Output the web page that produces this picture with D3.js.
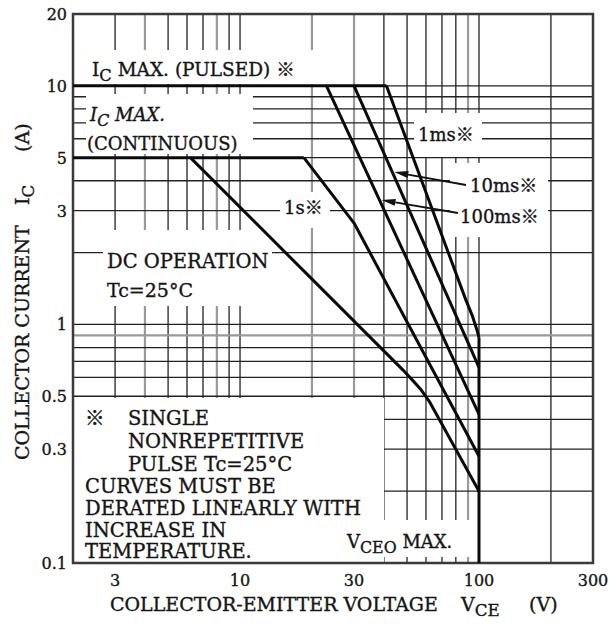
<!DOCTYPE html>
<html>
<head>
<meta charset="utf-8">
<script src="https://cdn.jsdelivr.net/npm/d3@7"></script>
<style>
  html, body { margin: 0; padding: 0; background: #fff; }
  svg { display: block; }
  text { font-family: "DejaVu Serif", "Noto Sans CJK JP", serif; fill: #151515; stroke: #151515; stroke-width: 0.35; }
</style>
</head>
<body>
<svg id="chart" width="616" height="633"></svg>
<script>
// ---- data ----
const xTickValues = [3, 10, 30, 100, 300];
const xTickLabels = ["3", "10", "30", "100", "300"];
const yTickValues = [0.1, 0.3, 0.5, 1, 3, 5, 10, 20];
const yTickLabels = ["0.1", "0.3", "0.5", "1", "3", "5", "10", "20"];
const xGridValues = [3, 4, 5, 6, 7, 8, 9, 10, 20, 30, 40, 50, 60, 70, 80, 90, 100, 200];
const yGridValues = [0.2, 0.3, 0.4, 0.5, 0.6, 0.7, 0.8, 0.9, 1, 2, 3, 4, 5, 6, 7, 8, 9, 10];

// boundary lines (V in volts, I in amperes)
const icPulsedV = [2, 41];     const icPulsedI = [10, 10];
const icContV   = [2, 18.5];   const icContI   = [5, 5];
const vceoV     = [100, 100];  const vceoI     = [0.88, 0.1];
// safe operating area curves
const dcV    = [6.2, 48, 53, 57, 62, 100];      const dcI    = [5, 0.645, 0.58, 0.535, 0.475, 0.2];
const s1V    = [18.5, 30, 100];                 const s1I    = [5, 2.66, 0.28];
const ms100V = [23, 100];                       const ms100I = [10, 0.42];
const ms10V  = [30, 100];                       const ms10I  = [10, 0.66];
const ms1V   = [41, 88, 94, 98, 100];           const ms1I   = [10, 1.27, 1.08, 0.95, 0.88];

// ---- layout ----
const svg = d3.select("#chart");
const L = 73, R = 593, T = 14, B = 563;
const x = d3.scaleLog().domain([2, 300]).range([L, R]);
const y = d3.scaleLog().domain([0.1, 20]).range([B, T]);

const grayX = new Set([4, 8, 20, 30, 90]);
const grayY = new Set([0.9]);

// grid
const grid = svg.append("g");
grid.selectAll("line.v").data(xGridValues).join("line")
  .attr("x1", d => x(d)).attr("x2", d => x(d))
  .attr("y1", T).attr("y2", B)
  .attr("stroke", d => grayX.has(d) ? "#9a9a9a" : "#222")
  .attr("stroke-width", d => grayX.has(d) ? 2.2 : 1.3);
grid.selectAll("line.h").data(yGridValues).join("line")
  .attr("x1", L).attr("x2", R)
  .attr("y1", d => y(d)).attr("y2", d => y(d))
  .attr("stroke", d => grayY.has(d) ? "#9a9a9a" : "#222")
  .attr("stroke-width", d => grayY.has(d) ? 2.2 : 1.3);

// white-out regions behind the annotations
const boxes = [
  [L + 1, 50, 330, 84],      // IC MAX (PULSED)
  [86, 94, 253, 154],        // IC MAX (CONTINUOUS)
  [280, 192, 330, 228],      // 1s
  [103, 230, 272, 306],      // DC OPERATION
  [L + 1, 398, 384, B - 1],  // note
  [340, 520, 474, 557],      // VCEO MAX
  [414, 113, 482, 157],      // 1ms
  [450, 163, 548, 237]       // 10ms / 100ms
];
svg.append("g").selectAll("rect").data(boxes).join("rect")
  .attr("x", d => d[0]).attr("y", d => d[1])
  .attr("width", d => d[2] - d[0]).attr("height", d => d[3] - d[1])
  .attr("fill", "#fff");

// frame
svg.append("rect").attr("x", L).attr("y", T).attr("width", R - L).attr("height", B - T)
  .attr("fill", "none").attr("stroke", "#3a3a3a").attr("stroke-width", 2.5);

// curves
const zip = (a, b) => a.map((v, i) => [v, b[i]]);
const line = d3.line().x(d => x(d[0])).y(d => y(d[1]));
const curves = [
  zip(icPulsedV, icPulsedI), zip(icContV, icContI), zip(vceoV, vceoI),
  zip(dcV, dcI), zip(s1V, s1I), zip(ms100V, ms100I), zip(ms10V, ms10I), zip(ms1V, ms1I)
];
svg.append("g").selectAll("path").data(curves).join("path")
  .attr("d", line)
  .attr("fill", "none").attr("stroke", "#0a0a0a").attr("stroke-width", 3)
  .attr("stroke-linejoin", "round");

// leader arrows: tip on a curve at a given current
function vAt(Vs, Is, I) {
  for (let i = 0; i < Vs.length - 1; i++) {
    if (I <= Is[i] && I >= Is[i + 1]) {
      const t = Math.log(Is[i] / I) / Math.log(Is[i] / Is[i + 1]);
      return Math.exp(Math.log(Vs[i]) + t * Math.log(Vs[i + 1] / Vs[i]));
    }
  }
  return Vs[0];
}
const arrows = [
  { tip: [x(vAt(ms10V, ms10I, 4.35)) + 2, y(4.35)], tail: [466, 185] },
  { tip: [x(vAt(ms100V, ms100I, 3.32)) + 2, y(3.32)], tail: [458, 213] }
];
const ag = svg.append("g");
arrows.forEach(a => {
  const [tx, ty] = a.tip, [sx, sy] = a.tail;
  const ang = Math.atan2(ty - sy, tx - sx);
  const len = 14, w = 3.5;
  const bx = tx - len * Math.cos(ang), by = ty - len * Math.sin(ang);
  ag.append("line").attr("x1", sx).attr("y1", sy).attr("x2", bx).attr("y2", by)
    .attr("stroke", "#111").attr("stroke-width", 1.8);
  ag.append("path")
    .attr("d", `M${tx},${ty} L${bx + w * Math.sin(ang)},${by - w * Math.cos(ang)} L${bx - w * Math.sin(ang)},${by + w * Math.cos(ang)} Z`)
    .attr("fill", "#111");
});

// tick labels
svg.append("g").selectAll("text").data(yTickValues).join("text")
  .attr("x", 67).attr("y", d => y(d) + 6)
  .attr("text-anchor", "end").attr("font-size", 16)
  .text((d, i) => yTickLabels[i]);
svg.append("g").selectAll("text").data(xTickValues).join("text")
  .attr("x", d => x(d)).attr("y", 586)
  .attr("text-anchor", "middle").attr("font-size", 16)
  .text((d, i) => xTickLabels[i]);

// helper for text with subscript
function subText(g, xx, yy, main, sub, rest, size, italic) {
  const t = g.append("text").attr("x", xx).attr("y", yy).attr("font-size", size);
  if (italic) t.attr("font-style", "italic");
  t.append("tspan").text(main);
  t.append("tspan").attr("dy", 5).attr("font-size", size * 0.88).text(sub);
  if (rest) t.append("tspan").attr("dy", -5).text(rest);
  return t;
}
const lab = svg.append("g");
subText(lab, 92, 76, "I", "C", " MAX. (PULSED) ※", 18.5);
subText(lab, 90, 121, "I", "C", " MAX.", 18, true);
lab.append("text").attr("x", 87).attr("y", 150).attr("font-size", 18).text("(CONTINUOUS)");
lab.append("text").attr("x", 284).attr("y", 214).attr("font-size", 18).text("1s※");
lab.append("text").attr("x", 418).attr("y", 141).attr("font-size", 18).text("1ms※");
lab.append("text").attr("x", 470).attr("y", 192).attr("font-size", 18).text("10ms※");
lab.append("text").attr("x", 460).attr("y", 223).attr("font-size", 18).text("100ms※");
lab.append("text").attr("x", 107).attr("y", 268).attr("font-size", 19.5).text("DC OPERATION");
lab.append("text").attr("x", 107).attr("y", 297).attr("font-size", 19).text("Tc=25°C");

const notes = [
  [85, 425, "※"], [128, 425, "SINGLE"], [128, 448, "NONREPETITIVE"], [128, 471, "PULSE Tc=25°C"],
  [85, 493, "CURVES MUST BE"], [85, 515, "DERATED LINEARLY WITH"], [85, 537, "INCREASE IN"],
  [85, 558, "TEMPERATURE."]
];
lab.selectAll("text.note").data(notes).join("text").attr("class", "note")
  .attr("x", d => d[0]).attr("y", d => d[1]).attr("font-size", 19.5).text(d => d[2]);

subText(lab, 347, 548, "V", "CEO", " MAX.", 18);

// axis titles
lab.append("text").attr("x", 110).attr("y", 611).attr("font-size", 19).text("COLLECTOR-EMITTER VOLTAGE");
subText(lab, 461, 611, "V", "CE", "", 19);
lab.append("text").attr("x", 529).attr("y", 611).attr("font-size", 19).text("(V)");

const yTitleParts = [
  { pos: 460, txt: "COLLECTOR CURRENT", sub: "" },
  { pos: 205, txt: "I", sub: "C" },
  { pos: 152, txt: "(A)", sub: "" }
];
yTitleParts.forEach(p => {
  const t = lab.append("text").attr("transform", `translate(29,${p.pos}) rotate(-90)`).attr("font-size", 19);
  t.append("tspan").text(p.txt);
  if (p.sub) t.append("tspan").attr("dy", 5).attr("font-size", 19 * 0.88).text(p.sub);
});
</script>
</body>
</html>
